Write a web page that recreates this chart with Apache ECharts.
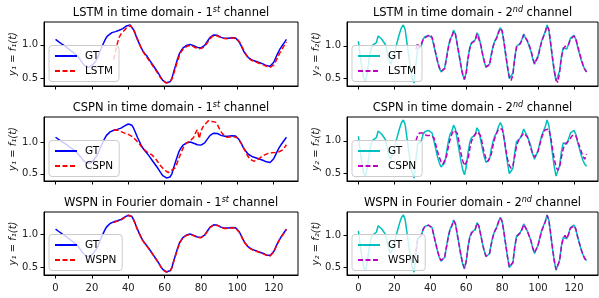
<!DOCTYPE html>
<html>
<head>
<meta charset="utf-8">
<script src="https://cdn.jsdelivr.net/npm/echarts@6/dist/echarts.min.js"></script>
<style>
html, body { margin: 0; padding: 0; background: #fff; }
#chart { width: 599px; height: 298px; }
</style>
</head>
<body>
<div id="chart"></div>
<script>
var predStart = 32; // predictions begin at this time step
var xTicks = [0, 20, 40, 60, 80, 100, 120];
var yTicks = [0.5, 1.0];

var gtCh1 = [
    1.08, 1.06, 1.04, 1.02, 1.00, 0.98, 0.965, 0.94, 0.92, 0.90,
    0.88, 0.86, 0.83, 0.80, 0.76, 0.72, 0.69, 0.67, 0.665, 0.67,
    0.69, 0.72, 0.75, 0.80, 0.87, 0.94, 1.00, 1.06, 1.11, 1.14,
    1.165, 1.18, 1.19, 1.195, 1.205, 1.215, 1.225, 1.24, 1.26, 1.28,
    1.29, 1.295, 1.27, 1.22, 1.15, 1.08, 1.02, 0.96, 0.91, 0.87,
    0.84, 0.80, 0.76, 0.72, 0.68, 0.64, 0.60, 0.555, 0.51, 0.47,
    0.445, 0.435, 0.432, 0.45, 0.50, 0.60, 0.69, 0.78, 0.86, 0.91,
    0.95, 0.975, 0.99, 1.00, 1.005, 1.00, 0.985, 0.97, 0.96, 0.955,
    0.955, 0.965, 0.99, 1.03, 1.07, 1.11, 1.135, 1.145, 1.15, 1.14,
    1.125, 1.11, 1.10, 1.095, 1.09, 1.095, 1.10, 1.105, 1.105, 1.10,
    1.08, 1.04, 0.99, 0.93, 0.88, 0.845, 0.81, 0.79, 0.775, 0.765,
    0.755, 0.745, 0.735, 0.725, 0.715, 0.70, 0.69, 0.68, 0.68, 0.70,
    0.74, 0.80, 0.86, 0.915, 0.96, 1.00, 1.04, 1.08
];
var lstmCh1 = [
    0.78, 0.90, 1.02, 1.11, 1.16, 1.19, 1.22, 1.25, 1.275, 1.285,
    1.27, 1.225, 1.16, 1.09, 1.02, 0.96, 0.905, 0.86, 0.825, 0.785,
    0.745, 0.705, 0.665, 0.625, 0.585, 0.54, 0.50, 0.465, 0.44, 0.43,
    0.435, 0.455, 0.49, 0.57, 0.66, 0.75, 0.83, 0.89, 0.93, 0.96,
    0.975, 0.985, 0.99, 0.985, 0.97, 0.955, 0.945, 0.94, 0.945, 0.955,
    0.975, 1.01, 1.05, 1.09, 1.12, 1.135, 1.14, 1.135, 1.12, 1.105,
    1.095, 1.09, 1.09, 1.095, 1.10, 1.10, 1.10, 1.095, 1.08, 1.05,
    1.00, 0.945, 0.89, 0.845, 0.805, 0.78, 0.765, 0.755, 0.745, 0.735,
    0.725, 0.715, 0.705, 0.69, 0.68, 0.67, 0.665, 0.675, 0.70, 0.75,
    0.80, 0.86, 0.91, 0.955, 1.00, 1.04
];
var cspnCh1 = [
    1.19, 1.20, 1.195, 1.18, 1.17, 1.155, 1.145, 1.135, 1.125, 1.11,
    1.095, 1.07, 1.04, 1.01, 0.98, 0.94, 0.91, 0.88, 0.855, 0.83,
    0.81, 0.80, 0.83, 0.74, 0.70, 0.66, 0.62, 0.59, 0.56, 0.53,
    0.52, 0.53, 0.56, 0.53, 0.60, 0.68, 0.76, 0.83, 0.90, 0.95,
    0.99, 1.01, 1.02, 1.04, 1.08, 1.15, 1.20, 1.06, 1.18, 1.24,
    1.28, 1.31, 1.34, 1.355, 1.33, 1.30, 1.32, 1.28, 1.22, 1.17,
    1.13, 1.10, 1.08, 1.075, 1.085, 1.095, 1.09, 1.08, 1.07, 1.04,
    0.99, 0.94, 0.88, 0.82, 0.77, 0.73, 0.71, 0.70, 0.70, 0.72,
    0.745, 0.765, 0.785, 0.80, 0.815, 0.825, 0.83, 0.835, 0.84, 0.84,
    0.845, 0.85, 0.86, 0.88, 0.92, 0.96
];
var wspnCh1 = [
    1.18, 1.19, 1.20, 1.21, 1.22, 1.235, 1.255, 1.275, 1.285, 1.29,
    1.265, 1.215, 1.145, 1.075, 1.015, 0.955, 0.905, 0.865, 0.835, 0.795,
    0.755, 0.715, 0.675, 0.635, 0.595, 0.55, 0.505, 0.465, 0.44, 0.43,
    0.43, 0.445, 0.495, 0.59, 0.68, 0.77, 0.85, 0.905, 0.945, 0.97,
    0.985, 0.995, 1.00, 0.995, 0.98, 0.965, 0.955, 0.95, 0.95, 0.96,
    0.985, 1.025, 1.065, 1.105, 1.13, 1.14, 1.145, 1.135, 1.12, 1.105,
    1.095, 1.09, 1.085, 1.09, 1.095, 1.10, 1.10, 1.095, 1.075, 1.035,
    0.985, 0.925, 0.875, 0.84, 0.805, 0.785, 0.77, 0.76, 0.75, 0.74,
    0.73, 0.72, 0.71, 0.695, 0.685, 0.675, 0.675, 0.695, 0.735, 0.795,
    0.855, 0.91, 0.955, 0.995, 1.035, 1.075
];

var gtCh2 = [
    1.07, 0.85, 0.65, 0.50, 0.46, 0.60, 0.80, 0.95, 1.01, 1.00,
    1.05, 1.15, 1.13, 1.10, 1.08, 1.02, 0.90, 0.78, 0.72, 0.75,
    0.88, 1.00, 1.10, 1.20, 1.28, 1.32, 1.25, 1.05, 0.85, 0.65,
    0.50, 0.43, 0.72, 0.95, 0.92, 1.00, 1.10, 1.14, 1.15, 1.16,
    1.18, 1.12, 1.00, 0.88, 0.76, 0.66, 0.60, 0.58, 0.66, 0.82,
    0.98, 1.10, 1.15, 1.24, 1.18, 1.02, 0.86, 0.70, 0.56, 0.48,
    0.60, 0.82, 0.98, 1.05, 1.07, 1.09, 1.20, 1.15, 1.02, 0.88,
    0.76, 0.67, 0.65, 0.72, 0.88, 1.00, 1.08, 1.13, 1.22, 1.28,
    1.22, 1.05, 0.85, 0.66, 0.50, 0.47, 0.58, 0.82, 0.99, 1.02,
    1.04, 1.10, 1.18, 1.12, 1.07, 1.04, 0.92, 0.80, 0.72, 0.74,
    0.85, 0.97, 1.08, 1.15, 1.22, 1.32, 1.24, 1.02, 0.80, 0.60,
    0.46, 0.43, 0.62, 0.84, 0.97, 1.00, 0.95, 1.03, 1.12, 1.13,
    1.16, 1.10, 0.98, 0.88, 0.78, 0.70, 0.64, 0.61
];
var lstmCh2 = [
    0.95, 1.04, 0.97, 1.02, 1.10, 1.13, 1.14, 1.15, 1.17, 1.13,
    1.02, 0.89, 0.77, 0.67, 0.61, 0.59, 0.65, 0.80, 0.96, 1.08,
    1.14, 1.22, 1.18, 1.03, 0.87, 0.71, 0.57, 0.49, 0.58, 0.80,
    0.96, 1.04, 1.06, 1.08, 1.18, 1.15, 1.03, 0.89, 0.77, 0.68,
    0.65, 0.71, 0.86, 0.99, 1.07, 1.12, 1.20, 1.27, 1.23, 1.07,
    0.87, 0.68, 0.52, 0.47, 0.56, 0.80, 0.98, 1.01, 1.03, 1.08,
    1.17, 1.13, 1.08, 1.05, 0.94, 0.82, 0.73, 0.73, 0.83, 0.95,
    1.06, 1.14, 1.21, 1.30, 1.25, 1.05, 0.83, 0.63, 0.48, 0.44,
    0.60, 0.82, 0.95, 0.99, 0.97, 1.02, 1.10, 1.12, 1.15, 1.11,
    1.00, 0.90, 0.80, 0.71, 0.64, 0.60
];
var cspnCh2 = [
    1.00, 1.08, 1.12, 1.13, 1.12, 1.10, 1.08, 1.07, 1.08, 1.10,
    1.05, 0.95, 0.84, 0.75, 0.68, 0.64, 0.66, 0.76, 0.90, 1.02,
    1.10, 1.16, 1.18, 1.12, 0.98, 0.82, 0.70, 0.62, 0.62, 0.72,
    0.88, 1.00, 1.06, 1.10, 1.14, 1.15, 1.08, 0.95, 0.82, 0.73,
    0.68, 0.70, 0.80, 0.94, 1.05, 1.12, 1.18, 1.20, 1.18, 1.05,
    0.88, 0.72, 0.62, 0.58, 0.62, 0.76, 0.92, 1.00, 1.04, 1.08,
    1.12, 1.12, 1.06, 0.98, 0.88, 0.80, 0.75, 0.76, 0.84, 0.95,
    1.05, 1.12, 1.17, 1.20, 1.18, 1.06, 0.88, 0.72, 0.60, 0.55,
    0.60, 0.75, 0.88, 0.95, 0.98, 1.00, 1.04, 1.08, 1.10, 1.08,
    1.00, 0.92, 0.84, 0.76, 0.72, 0.80
];
var wspnCh2 = [
    0.75, 0.95, 0.93, 1.00, 1.09, 1.14, 1.15, 1.16, 1.17, 1.12,
    1.00, 0.88, 0.76, 0.67, 0.61, 0.59, 0.66, 0.82, 0.97, 1.09,
    1.15, 1.23, 1.18, 1.02, 0.86, 0.70, 0.57, 0.49, 0.60, 0.81,
    0.97, 1.04, 1.07, 1.09, 1.19, 1.15, 1.02, 0.88, 0.76, 0.68,
    0.65, 0.72, 0.87, 0.99, 1.07, 1.12, 1.21, 1.27, 1.22, 1.05,
    0.86, 0.67, 0.51, 0.48, 0.58, 0.81, 0.98, 1.01, 1.04, 1.09,
    1.17, 1.12, 1.07, 1.04, 0.92, 0.81, 0.73, 0.74, 0.85, 0.96,
    1.07, 1.14, 1.21, 1.31, 1.24, 1.03, 0.81, 0.61, 0.47, 0.44,
    0.61, 0.83, 0.96, 1.00, 0.95, 1.02, 1.11, 1.13, 1.15, 1.10,
    0.98, 0.88, 0.78, 0.70, 0.64, 0.61
];

var FONT = 'DejaVu Sans';
var cols = [
    { left: 44, width: 254, gtColor: '#0000ff', predColor: '#ff0000' },
    { left: 347, width: 251, gtColor: '#00bfbf', predColor: '#bf00bf' }
];
var rows = [
    { top: 22, height: 64 },
    { top: 117, height: 64 },
    { top: 212, height: 63 }
];
var panels = [
    { model: 'LSTM', domain: 'time', ch: 1, gt: gtCh1, pred: lstmCh1 },
    { model: 'LSTM', domain: 'time', ch: 2, gt: gtCh2, pred: lstmCh2 },
    { model: 'CSPN', domain: 'time', ch: 1, gt: gtCh1, pred: cspnCh1 },
    { model: 'CSPN', domain: 'time', ch: 2, gt: gtCh2, pred: cspnCh2 },
    { model: 'WSPN', domain: 'Fourier', ch: 1, gt: gtCh1, pred: wspnCh1 },
    { model: 'WSPN', domain: 'Fourier', ch: 2, gt: gtCh2, pred: wspnCh2 }
];

// matplotlib-like 5% margins around the data
function padMin5(v) { return v.min - 0.05 * (v.max - v.min); }
function padMax5(v) { return v.max + 0.05 * (v.max - v.min); }

var grids = [], xAxes = [], yAxes = [], series = [], legends = [], titles = [];

panels.forEach(function (p, i) {
    var col = cols[i % 2], row = rows[Math.floor(i / 2)];
    var bottomRow = Math.floor(i / 2) === 2;
    var sub = p.ch === 1 ? '₁' : '₂';
    var sup = p.ch === 1 ? 'st' : 'nd';

    grids.push({
        left: col.left, top: row.top, width: col.width, height: row.height,
        show: true, borderColor: '#000', borderWidth: 1, backgroundColor: 'transparent'
    });
    xAxes.push({
        type: 'value', gridIndex: i, min: padMin5, max: padMax5,
        splitLine: { show: false },
        axisLine: { show: true, onZero: false, lineStyle: { color: '#000' } },
        axisTick: { show: true, length: 3.5, lineStyle: { color: '#000' }, customValues: xTicks },
        axisLabel: {
            show: bottomRow, customValues: xTicks, margin: 8,
            fontFamily: FONT, fontSize: 10, color: '#222'
        }
    });
    yAxes.push({
        type: 'value', gridIndex: i, min: padMin5, max: padMax5,
        splitLine: { show: false },
        axisLine: { show: true, onZero: false, lineStyle: { color: '#000' } },
        axisTick: { show: true, length: 3.5, lineStyle: { color: '#000' }, customValues: yTicks },
        axisLabel: {
            customValues: yTicks, margin: 6, fontFamily: FONT, fontSize: 10, color: '#222',
            formatter: function (v) { return v.toFixed(1); }
        },
        name: 'y' + sub + ' = f' + sub + '(t)',
        nameLocation: 'middle', nameRotate: 90, nameGap: 25,
        nameTextStyle: { fontFamily: FONT, fontSize: 10, fontStyle: 'italic', color: '#222' }
    });

    var gtName = 'GT|' + i, predName = p.model + '|' + i;
    series.push({
        name: gtName, type: 'line', xAxisIndex: i, yAxisIndex: i,
        symbol: 'none', silent: true, z: 2,
        lineStyle: { color: col.gtColor, width: 1.5 },
        itemStyle: { color: col.gtColor },
        data: p.gt.map(function (v, t) { return [t, v]; })
    });
    series.push({
        name: predName, type: 'line', xAxisIndex: i, yAxisIndex: i,
        symbol: 'none', silent: true, z: 3,
        lineStyle: { color: col.predColor, width: 1.5, type: [5, 2.5] },
        itemStyle: { color: col.predColor },
        data: p.pred.map(function (v, k) { return [predStart + k, v]; })
    });

    legends.push({
        data: [gtName, predName],
        orient: 'vertical',
        left: col.left + 5,
        bottom: 298 - (row.top + row.height) + 4.5,
        itemWidth: 22, itemHeight: 11, itemGap: 4,
        padding: [5, 6, 5, 5],
        backgroundColor: 'rgba(255,255,255,0.8)',
        borderColor: '#cccccc', borderWidth: 1, borderRadius: 3,
        selectedMode: false,
        itemStyle: { color: 'rgba(0,0,0,0)', borderWidth: 0, opacity: 0 },
        formatter: function (name) { return name.split('|')[0]; },
        textStyle: { fontFamily: FONT, fontSize: 10.5, color: '#000', padding: [0, 0, 0, 3] }
    });

    titles.push({
        text: '{n|' + p.model + ' in ' + p.domain + ' domain - ' + p.ch + '}{s|' + sup + '}{n| channel}',
        left: col.left + col.width / 2,
        top: row.top - 16,
        textAlign: 'center',
        padding: 0,
        textStyle: {
            fontWeight: 'normal',
            rich: {
                n: { fontFamily: FONT, fontSize: 11.5, fontWeight: 'normal', color: '#000', lineHeight: 15 },
                s: { fontFamily: FONT, fontSize: 8, fontWeight: 'normal', fontStyle: 'italic', color: '#000',
                     lineHeight: 9, verticalAlign: 'top' }
            }
        }
    });
});

var myChart = echarts.init(document.getElementById('chart'), null, { renderer: 'canvas' });
myChart.setOption({
    animation: false,
    backgroundColor: '#fff',
    title: titles,
    grid: grids,
    xAxis: xAxes,
    yAxis: yAxes,
    legend: legends,
    series: series
});
</script>
</body>
</html>
